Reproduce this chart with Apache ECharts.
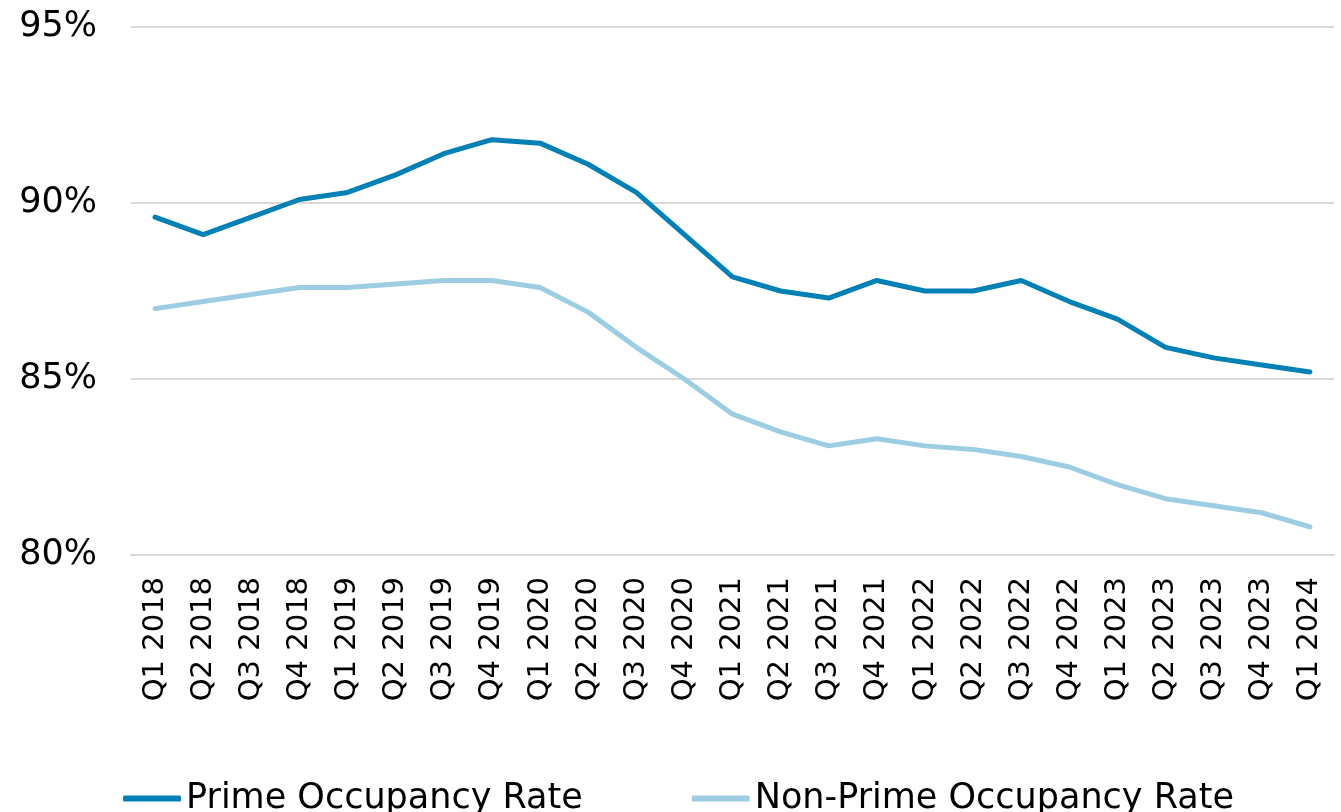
<!DOCTYPE html>
<html><head><meta charset="utf-8">
<script src="https://cdn.jsdelivr.net/npm/echarts@6/dist/echarts.min.js"></script>
<style>html,body{margin:0;padding:0;background:#fff}#c{width:1341px;height:812px}</style>
</head><body><div id="c"></div>
<script>
const categories = ["Q1 2018","Q2 2018","Q3 2018","Q4 2018","Q1 2019","Q2 2019","Q3 2019","Q4 2019","Q1 2020","Q2 2020","Q3 2020","Q4 2020","Q1 2021","Q2 2021","Q3 2021","Q4 2021","Q1 2022","Q2 2022","Q3 2022","Q4 2022","Q1 2023","Q2 2023","Q3 2023","Q4 2023","Q1 2024"];
const primeRate = [89.6,89.1,89.6,90.1,90.3,90.8,91.4,91.8,91.7,91.1,90.3,89.1,87.9,87.5,87.3,87.8,87.5,87.5,87.8,87.2,86.7,85.9,85.6,85.4,85.2];
const nonPrimeRate = [87.0,87.2,87.4,87.6,87.6,87.7,87.8,87.8,87.6,86.9,85.9,85.0,84.0,83.5,83.1,83.3,83.1,83.0,82.8,82.5,82.0,81.6,81.4,81.2,80.8];
const seriesNames = ["Prime Occupancy Rate","Non-Prime Occupancy Rate"];
const font = "DejaVu Sans";
const chart = echarts.init(document.getElementById('c'), null, {renderer:'canvas'});
chart.setOption({
  animation:false,
  grid:{left:131,right:7,top:27,bottom:257,containLabel:false},
  legend:{
    bottom:-9,left:118,itemWidth:58,itemHeight:6,itemGap:109,
    icon:'roundRect',
    textStyle:{fontFamily:font,fontSize:35,color:'#000'},
    data:seriesNames
  },
  xAxis:{
    type:'category',data:categories,boundaryGap:true,
    axisLine:{show:true,lineStyle:{color:'#d9d9d9',width:2}},
    axisTick:{show:false},
    axisLabel:{rotate:90,fontFamily:font,fontSize:29,color:'#000',margin:22,interval:0}
  },
  yAxis:{
    type:'value',min:80,max:95,interval:5,
    axisLine:{show:false},axisTick:{show:false},
    splitLine:{lineStyle:{color:'#d9d9d9',width:2}},
    axisLabel:{formatter:v=>v+'%',fontFamily:font,fontSize:35,color:'#000',margin:34}
  },
  series:[
    {name:seriesNames[0],type:'line',data:primeRate,symbol:'none',lineStyle:{color:'#0080b4',width:5,cap:'round'},itemStyle:{color:'#0080b4'}},
    {name:seriesNames[1],type:'line',data:nonPrimeRate,symbol:'none',lineStyle:{color:'#9dcde3',width:5,cap:'round'},itemStyle:{color:'#9dcde3'}}
  ]
});
</script></body></html>
